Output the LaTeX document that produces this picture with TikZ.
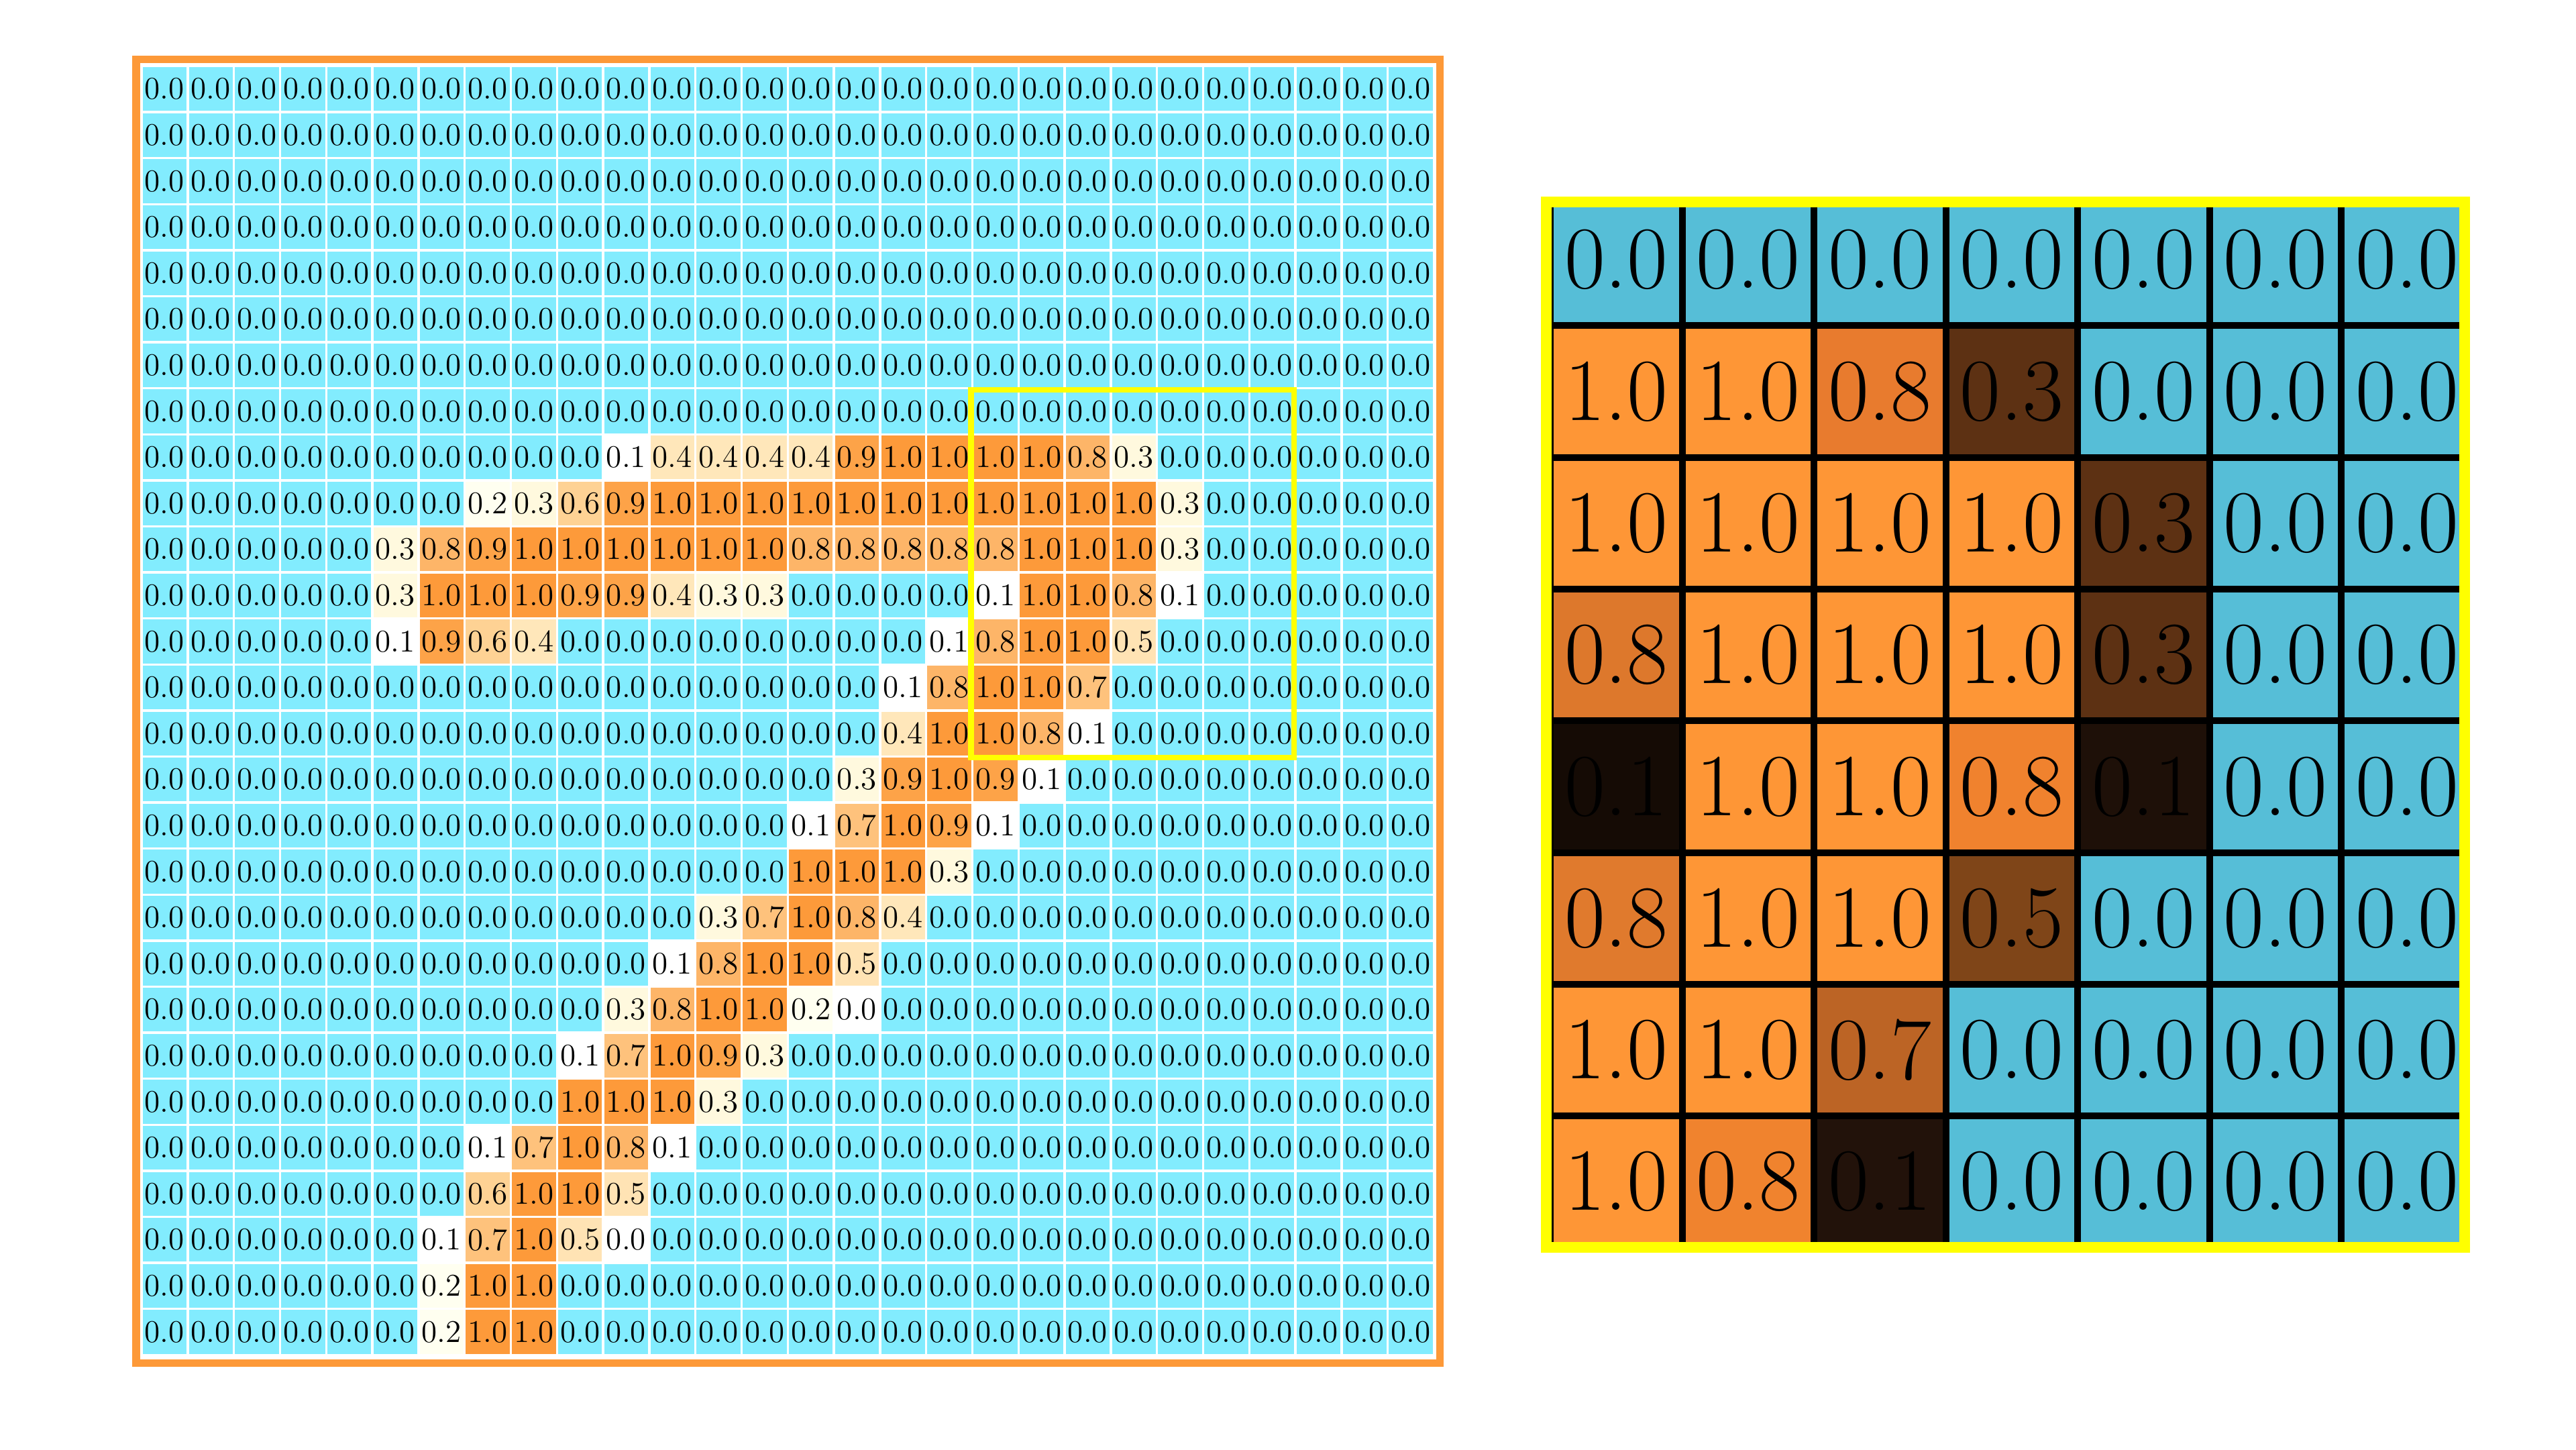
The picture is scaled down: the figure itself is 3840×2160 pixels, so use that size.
\documentclass[tikz,border=0pt]{standalone}
\definecolor{zcyan}{RGB}{130,236,254}
\definecolor{lv0}{RGB}{255,255,255}
\definecolor{lv1}{RGB}{255,255,255}
\definecolor{lv2}{RGB}{255,255,240}
\definecolor{lv3}{RGB}{255,249,222}
\definecolor{lv4}{RGB}{255,231,186}
\definecolor{lv5}{RGB}{255,227,180}
\definecolor{lv6}{RGB}{254,210,148}
\definecolor{lv7}{RGB}{254,194,124}
\definecolor{lv8}{RGB}{253,181,104}
\definecolor{lv9}{RGB}{253,163,72}
\definecolor{lv10}{RGB}{253,154,58}
\definecolor{lframe}{RGB}{253,153,56}
\definecolor{rb}{RGB}{86,190,215}
\definecolor{r10}{RGB}{254,150,54}
\definecolor{r8a}{RGB}{232,123,46}
\definecolor{r8b}{RGB}{221,120,44}
\definecolor{r8c}{RGB}{240,130,46}
\definecolor{r8d}{RGB}{224,122,45}
\definecolor{r8e}{RGB}{240,131,46}
\definecolor{r7}{RGB}{188,100,37}
\definecolor{r5}{RGB}{127,69,24}
\definecolor{r3}{RGB}{93,49,19}
\definecolor{r1a}{RGB}{21,11,5}
\definecolor{r1b}{RGB}{30,16,8}
\definecolor{r1c}{RGB}{34,18,10}
\definecolor{yframe}{RGB}{255,255,0}
\tikzset{
  lcell/.style={inner sep=0pt, text=black, font=\fontsize{13.4pt}{15pt}\selectfont},
  rcell/.style={inner sep=0pt, text=black, font=\fontsize{37.6pt}{42pt}\selectfont},
  rgrid/.style={draw=black, line width=0.1cm},
  lbox/.style={draw=lframe, line width=0.11cm},
  ybox/.style={draw=yframe, line width=0.083cm},
  yframebox/.style={draw=yframe, line width=0.16cm},
}
\begin{document}
\begin{tikzpicture}[x=0.01cm,y=-0.01cm]
\fill[white] (0,0) rectangle (3840,2160);
\useasboundingbox (0,0) rectangle (3840,2160);
% ---------------- values of the non-zero cells of the left grid ----------------
\foreach \r/\c/\v in {
 8/10/1, 8/11/4, 8/12/4, 8/13/4, 8/14/4, 8/15/9, 8/16/10, 8/17/10, 8/18/10, 8/19/10, 8/20/8, 8/21/3,
 9/7/2, 9/8/3, 9/9/6, 9/10/9, 9/11/10, 9/12/10, 9/13/10, 9/14/10, 9/15/10, 9/16/10, 9/17/10, 9/18/10, 9/19/10, 9/20/10, 9/21/10, 9/22/3,
 10/5/3, 10/6/8, 10/7/9, 10/8/10, 10/9/10, 10/10/10, 10/11/10, 10/12/10, 10/13/10, 10/14/8, 10/15/8, 10/16/8, 10/17/8, 10/18/8, 10/19/10, 10/20/10, 10/21/10, 10/22/3,
 11/5/3, 11/6/10, 11/7/10, 11/8/10, 11/9/9, 11/10/9, 11/11/4, 11/12/3, 11/13/3, 11/18/1, 11/19/10, 11/20/10, 11/21/8, 11/22/1,
 12/5/1, 12/6/9, 12/7/6, 12/8/4, 12/17/1, 12/18/8, 12/19/10, 12/20/10, 12/21/5,
 13/16/1, 13/17/8, 13/18/10, 13/19/10, 13/20/7,
 14/16/4, 14/17/10, 14/18/10, 14/19/8, 14/20/1,
 15/15/3, 15/16/9, 15/17/10, 15/18/9, 15/19/1,
 16/14/1, 16/15/7, 16/16/10, 16/17/9, 16/18/1,
 17/14/10, 17/15/10, 17/16/10, 17/17/3,
 18/12/3, 18/13/7, 18/14/10, 18/15/8, 18/16/4,
 19/11/1, 19/12/8, 19/13/10, 19/14/10, 19/15/5,
 20/10/3, 20/11/8, 20/12/10, 20/13/10, 20/14/2, 20/15/0,
 21/9/1, 21/10/7, 21/11/10, 21/12/9, 21/13/3,
 22/9/10, 22/10/10, 22/11/10, 22/12/3,
 23/7/1, 23/8/7, 23/9/10, 23/10/8, 23/11/1,
 24/7/6, 24/8/10, 24/9/10, 24/10/5,
 25/6/1, 25/7/7, 25/8/10, 25/9/5, 25/10/0,
 26/6/2, 26/7/10, 26/8/10,
 27/6/2, 27/7/10, 27/8/10}{
  \expandafter\xdef\csname lval@\r @\c\endcsname{\v}
}
% ---------------- left grid (28 x 28) ----------------
\foreach \r in {0,...,27}{
  \foreach \c in {0,...,27}{
    \ifcsname lval@\r @\c\endcsname
      \edef\val{\csname lval@\r @\c\endcsname}%
      \edef\fc{lv\val}%
      \ifnum\val=10 \def\txt{1.0}\else\edef\txt{0.\val}\fi
    \else
      \def\fc{zcyan}\def\txt{0.0}%
    \fi
    \fill[fill=\fc] ({211+\c*68.8+1.7},{98.4+\r*68.6+1.7}) rectangle ({211+(\c+1)*68.8-1.7},{98.4+(\r+1)*68.6-1.7});
    \node[lcell] (L-\r-\c) at ({211+(\c+0.5)*68.8},{98.4+(\r+0.5)*68.6}) {\txt};
  }
}
\draw[lbox] (203,88) rectangle (2146.7,2031.7);
\draw[ybox] (1447.5,581) rectangle (1929,1128.7);
% ---------------- right grid (7 x 8) ----------------
\begin{scope}
\clip (2305,301) rectangle (3674,1859);
\foreach \row [count=\r from 0] in {
 {rb/0.0,rb/0.0,rb/0.0,rb/0.0,rb/0.0,rb/0.0,rb/0.0},
 {r10/1.0,r10/1.0,r8a/0.8,r3/0.3,rb/0.0,rb/0.0,rb/0.0},
 {r10/1.0,r10/1.0,r10/1.0,r10/1.0,r3/0.3,rb/0.0,rb/0.0},
 {r8b/0.8,r10/1.0,r10/1.0,r10/1.0,r3/0.3,rb/0.0,rb/0.0},
 {r1a/0.1,r10/1.0,r10/1.0,r8c/0.8,r1b/0.1,rb/0.0,rb/0.0},
 {r8d/0.8,r10/1.0,r10/1.0,r5/0.5,rb/0.0,rb/0.0,rb/0.0},
 {r10/1.0,r10/1.0,r7/0.7,rb/0.0,rb/0.0,rb/0.0,rb/0.0},
 {r10/1.0,r8e/0.8,r1c/0.1,rb/0.0,rb/0.0,rb/0.0,rb/0.0}}{
  \foreach \cc/\tt [count=\c from 0] in \row {
    \fill[fill=\cc] ({2311.1+\c*196.5},{289+\r*196.3}) rectangle ({2311.1+(\c+1)*196.5},{289+(\r+1)*196.3});
    \node[rcell] (R-\r-\c) at ({2311.1+(\c+0.5)*196.5},{289+(\r+0.5)*196.3}) {\tt};
  }
}
\foreach \k in {0,...,7}{
  \draw[rgrid] ({2311.1+\k*196.5},280) -- ({2311.1+\k*196.5},1870);
}
\foreach \k in {0,...,8}{
  \draw[rgrid] (2295,{289+\k*196.3}) -- (3690,{289+\k*196.3});
}
\end{scope}
\draw[yframebox] (2305,301) rectangle (3674,1859);
\end{tikzpicture}
\end{document}
